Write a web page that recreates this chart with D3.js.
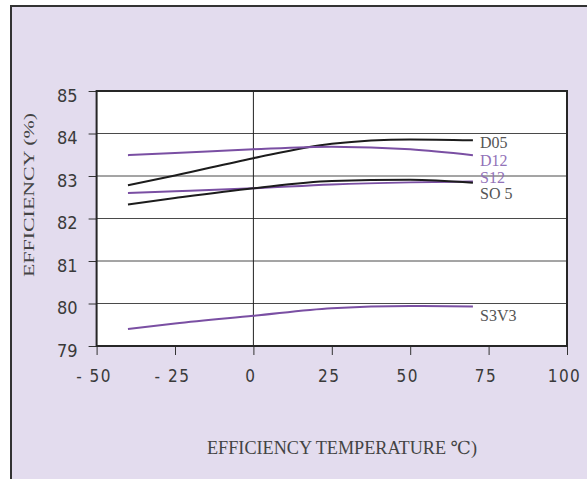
<!DOCTYPE html>
<html><head><meta charset="utf-8">
<script src="https://cdn.jsdelivr.net/npm/d3@7"></script>
<style>html,body{margin:0;padding:0;background:#fff;}svg{display:block;}</style>
</head><body>
<script>
const temps = [-40, -25, 0, 25, 50, 70];
const seriesNames = ["D05", "D12", "S12", "SO 5", "S3V3"];
const D05 = [82.78, 83.01, 83.42, 83.76, 83.86, 83.84];
const D12 = [83.49, 83.54, 83.63, 83.69, 83.63, 83.49];
const S12 = [82.60, 82.64, 82.71, 82.80, 82.85, 82.87];
const S05 = [82.33, 82.48, 82.71, 82.88, 82.91, 82.84];
const S3V3 = [79.40, 79.53, 79.71, 79.89, 79.94, 79.93];
const xTicks = [-50, -25, 0, 25, 50, 75, 100];
const yTicks = [79, 80, 81, 82, 83, 84, 85];

const W = 587, H = 479;
const black = "#1c1c1c", purple = "#7a4fa3";
const series = [
  {name: seriesNames[0], values: D05, color: black, text: "#555"},
  {name: seriesNames[1], values: D12, color: purple, text: "#9272b8"},
  {name: seriesNames[2], values: S12, color: purple, text: "#9272b8"},
  {name: seriesNames[3], values: S05, color: black, text: "#555"},
  {name: seriesNames[4], values: S3V3, color: purple, text: "#555"}
];
const labelY = [142.7, 160, 177.3, 193.3, 315.3];

const svg = d3.select("body").append("svg").attr("width", W).attr("height", H);
svg.append("rect").attr("x", 11).attr("y", 6).attr("width", W + 10).attr("height", H + 10)
  .attr("fill", "#e3dcee").attr("stroke", "#333").attr("stroke-width", 2);

const x = d3.scaleLinear().domain([-50, 100]).range([96.6, 567]);
const y = d3.scaleLinear().domain([79, 85]).range([346, 91]);

svg.append("rect").attr("x", x(-50)).attr("y", y(85)).attr("width", x(100) - x(-50)).attr("height", y(79) - y(85))
  .attr("fill", "#fff");

// grid
svg.append("g").selectAll("line").data(yTicks.slice(1, -1)).join("line")
  .attr("x1", x(-50)).attr("x2", x(100)).attr("y1", d => y(d)).attr("y2", d => y(d))
  .attr("stroke", "#4a4a4a").attr("stroke-width", 1);
svg.append("line").attr("x1", x(0)).attr("x2", x(0)).attr("y1", y(85)).attr("y2", y(79))
  .attr("stroke", "#222").attr("stroke-width", 1);

// axes
const tickFont = "'DejaVu Sans Condensed', 'DejaVu Sans', sans-serif";
const yAxis = svg.append("g").attr("transform", `translate(${x(-50)},0)`)
  .call(d3.axisLeft(y).tickValues(yTicks).tickSize(8).tickPadding(11).tickFormat(d3.format("d")));
yAxis.select(".domain").remove();
yAxis.selectAll("line").attr("stroke", "#333");
yAxis.selectAll("text").attr("font-family", tickFont).attr("font-size", 18).attr("fill", "#3a3a3a")
  .attr("dy", "0.68em").attr("y", -2);

const xAxis = svg.append("g").attr("transform", `translate(0,${y(79)})`)
  .call(d3.axisBottom(x).tickValues(xTicks).tickSize(9).tickPadding(22).tickFormat(d3.format("d")));
xAxis.select(".domain").remove();
xAxis.selectAll("line").attr("stroke", "#333");
xAxis.selectAll("text").attr("font-family", tickFont).attr("font-size", 17).attr("fill", "#3a3a3a")
  .attr("letter-spacing", "1.5px").attr("dx", -3).attr("dy", "0.3em")
  .text(d => d < 0 ? "- " + Math.abs(d) : d);

// plot border
svg.append("rect").attr("x", x(-50)).attr("y", y(85)).attr("width", x(100) - x(-50)).attr("height", y(79) - y(85))
  .attr("fill", "none").attr("stroke", "#262626").attr("stroke-width", 2);

// lines
const line = d3.line().x((d, i) => x(temps[i])).y(d => y(d)).curve(d3.curveMonotoneX);
svg.append("g").selectAll("path").data(series).join("path")
  .attr("d", d => line(d.values)).attr("fill", "none").attr("stroke", d => d.color).attr("stroke-width", 2);

// labels
svg.append("g").selectAll("text").data(series).join("text")
  .attr("x", 480).attr("y", (d, i) => labelY[i]).attr("dy", "0.35em")
  .attr("font-family", "'Liberation Serif', serif").attr("font-size", 16)
  .attr("fill", d => d.text).text(d => d.name);

// titles
const titleFont = "'Liberation Serif', 'DejaVu Serif', serif";
svg.append("text").attr("x", 207).attr("y", 447.3).attr("dy", "0.35em")
  .attr("font-family", titleFont).attr("font-size", 18).attr("fill", "#444")
  .attr("textLength", 270).attr("lengthAdjust", "spacingAndGlyphs")
  .text("EFFICIENCY TEMPERATURE ℃)");
svg.append("text").attr("transform", "translate(28.5,195) rotate(-90)")
  .attr("text-anchor", "middle").attr("dy", "0.35em")
  .attr("font-family", titleFont).attr("font-size", 15).attr("fill", "#444")
  .attr("textLength", 164).attr("lengthAdjust", "spacingAndGlyphs")
  .text("EFFICIENCY (%)");
</script>
</body></html>
